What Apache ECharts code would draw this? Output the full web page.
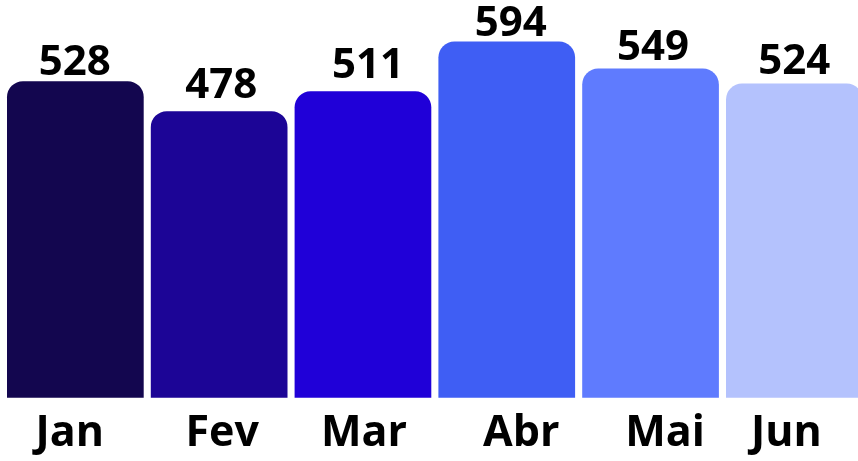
<!DOCTYPE html>
<html>
<head>
<meta charset="utf-8">
<script src="https://cdn.jsdelivr.net/npm/echarts@6/dist/echarts.min.js"></script>
<style>
html,body{margin:0;padding:0;background:#fff;}
#chart{width:858px;height:461px;}
</style>
</head>
<body>
<div id="chart"></div>
<script>
const months = ['Jan', 'Fev', 'Mar', 'Abr', 'Mai', 'Jun'];
const values = [528, 478, 511, 594, 549, 524];
const barColors = ['#13064f', '#1c0596', '#2000d8', '#3f5ef4', '#5f7bfe', '#b4c2fd'];
// style: per-label nudges to mirror the reference layout
const catLabelShift = [-11, 6, 2, 29, 29, -16];
const valueLabelNudge = [[-0.5, 0], [2, -7], [5, -7.5], [4, 0], [2.5, -3], [0, -4]];

const rich = {};
catLabelShift.forEach((s, i) => {
  rich['c' + i] = {
    fontFamily: 'Open Sans', fontWeight: 'bold', fontSize: 43, color: '#000',
    padding: s >= 0 ? [0, 0, 0, s] : [0, -s, 0, 0]
  };
});

const chart = echarts.init(document.getElementById('chart'), null, {renderer: 'canvas'});
chart.setOption({
  animation: false,
  grid: {left: 3.45, right: -8.25, top: 38, bottom: 63.3, containLabel: false, outerBoundsMode: 'none'},
  xAxis: {
    type: 'category',
    data: months,
    axisLine: {show: false},
    axisTick: {show: false},
    axisLabel: {
      margin: 15,
      interval: 0,
      formatter: (v, i) => '{c' + i + '|' + v + '}',
      rich: rich
    }
  },
  yAxis: {
    type: 'value', min: 0, max: 600,
    show: false,
    splitLine: {show: false}
  },
  series: [{
    type: 'bar',
    barWidth: 136.7,
    data: values.map((v, i) => ({
      value: v,
      itemStyle: {color: barColors[i]},
      label: {offset: valueLabelNudge[i]}
    })),
    itemStyle: {borderRadius: [16, 16, 0, 0]},
    label: {
      show: true, position: 'top', distance: -3,
      fontFamily: 'Open Sans', fontWeight: 'bold', fontSize: 42, color: '#000'
    }
  }]
});
</script>
</body>
</html>
